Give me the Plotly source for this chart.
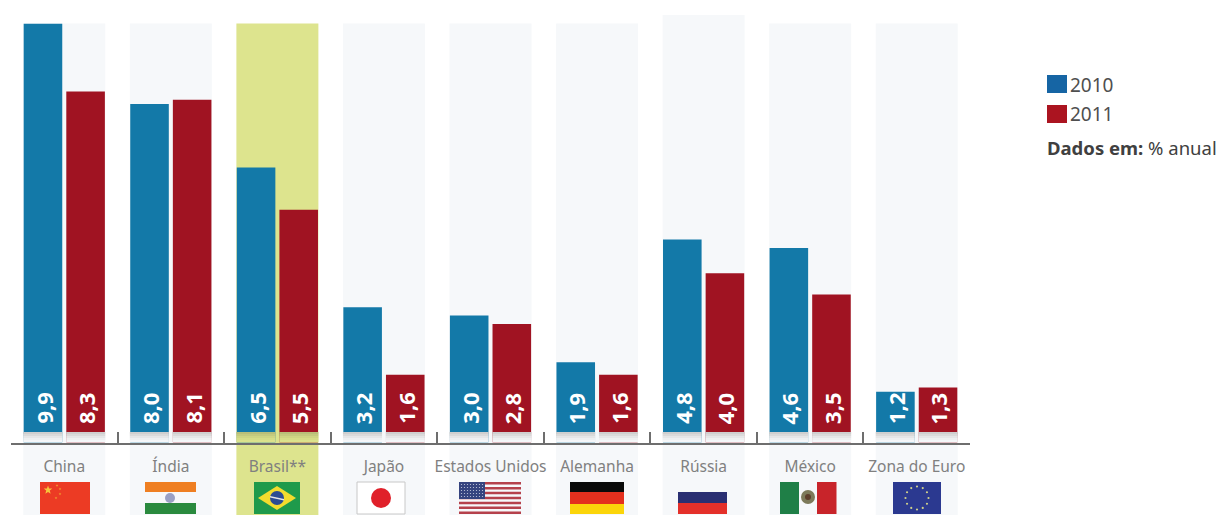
import math
import plotly.graph_objects as go

# Annual GDP growth by economy
countries = ["China", "Índia", "Brasil**", "Japão", "Estados Unidos",
             "Alemanha", "Rússia", "México", "Zona do Euro"]
growth_2010 = [9.9, 8.0, 6.5, 3.2, 3.0, 1.9, 4.8, 4.6, 1.2]
growth_2011 = [8.3, 8.1, 5.5, 1.6, 2.8, 1.6, 4.0, 3.5, 1.3]
labels_2010 = ["9,9", "8,0", "6,5", "3,2", "3,0", "1,9", "4,8", "4,6", "1,2"]
labels_2011 = ["8,3", "8,1", "5,5", "1,6", "2,8", "1,6", "4,0", "3,5", "1,3"]
year_names = ["2010", "2011"]

W, H = 1219, 515
AXIS_LEFT, AXIS_RIGHT, AXIS_Y = 11, 970, 442.5
PX_PER_UNIT = 42.3
BLUE, RED = "#1379a8", "#a01322"
LEG_BLUE, LEG_RED = "#1665a4", "#ab1420"
COL_BG, BRAZIL_BG = "#f6f8fa", "#dde48e"
FONT = "Noto Sans"
slot = (AXIS_RIGHT - AXIS_LEFT) / len(countries)
centers = [AXIS_LEFT + slot * (i + 0.5) for i in range(len(countries))]


def X(px):
    return px / W


def Y(py):
    return 1 - py / H


shapes = []


def rect(x0, y0, x1, y1, color, layer="above"):
    shapes.append(dict(type="rect", xref="paper", yref="paper", x0=X(x0), x1=X(x1),
                       y0=Y(y1), y1=Y(y0), fillcolor=color, line_width=0, layer=layer))


def dot(cx, cy, r, color):
    shapes.append(dict(type="circle", xref="paper", yref="paper", x0=X(cx - r), x1=X(cx + r),
                       y0=Y(cy + r), y1=Y(cy - r), fillcolor=color, line_width=0, layer="above"))


def polygon(points, color):
    d = "M" + " L".join(f"{X(a):.5f},{Y(b):.5f}" for a, b in points) + " Z"
    shapes.append(dict(type="path", xref="paper", yref="paper", path=d,
                       fillcolor=color, line_width=0, layer="above"))


def star(cx, cy, r, color):
    pts = []
    for k in range(10):
        rad = r if k % 2 == 0 else r * 0.42
        ang = -math.pi / 2 + k * math.pi / 5
        pts.append((cx + rad * math.cos(ang), cy + rad * math.sin(ang)))
    polygon(pts, color)


# Pale columns behind each pair of bars, reaching down past the axis
for i, c in enumerate(centers):
    top = 15 if countries[i] == "Rússia" else 23.5
    rect(c - 41, top, c + 41, H, BRAZIL_BG if countries[i].startswith("Brasil") else COL_BG, "below")

# Soft shadow strip between the bars and the axis
plain_steps = ["#cfcfcf", "#dadada", "#e5e6e7", "#eef0f1", "#f4f6f8"]
brazil_steps = ["#b9bf78", "#c4ca7e", "#ced583", "#d6dd88", "#dbe28c"]
for i, c in enumerate(centers):
    steps = brazil_steps if countries[i].startswith("Brasil") else plain_steps
    for k, col in enumerate(steps):
        y0 = 432 + k * 2
        rect(c - 41, y0, c - 1.9, y0 + 2, col)
        rect(c + 1.9, y0, c + 41, y0 + 2, col)

FT, FB = 482, 514  # flag top and bottom

# China
rect(40, FT, 90, FB, "#ec3b24")
star(48, 490, 4.5, "#f6c53c")
for sx, sy in [(57, 485.5), (60, 489), (60, 494), (56, 498)]:
    star(sx, sy, 1.4, "#f0a030")

# India
rect(145, FT, 196, 492, "#ef7f22")
rect(145, 503, 196, FB, "#2a8a3e")
dot(170, 498, 5, "#9aa0c4")

# Brazil
rect(254, FT, 300, FB, "#1f9a4b")
polygon([(258, 498), (277, 486), (296, 498), (277, 510)], "#f3dc2e")
dot(277, 498, 7, "#2b4c93")
polygon([(270, 496), (284, 499), (284, 500.5), (270, 497.5)], "#e6e6e6")

# Japan
shapes.append(dict(type="rect", xref="paper", yref="paper", x0=X(357), x1=X(405),
                   y0=Y(FB), y1=Y(FT), fillcolor="#ffffff",
                   line=dict(color="#c8c8c8", width=1), layer="above"))
dot(381, 498, 10, "#e0202a")

# United States
for s in range(7):
    y0 = FT + s * 32 / 6.5
    rect(459, y0, 521, y0 + 32 / 13, "#b5414b")
rect(459, FT, 485, 499, "#35447f")
for row in range(5):
    for col in range(8):
        dot(461.5 + col * 3, 484.5 + row * 3, 0.6, "#c9cde0")

# Germany
rect(570, FT, 624, 492, "#0a0a0a")
rect(570, 492, 624, 504, "#e4301e")
rect(570, 504, 624, FB, "#fbd50a")

# Russia
rect(678, 492, 727, 503, "#2a2f72")
rect(678, 503, 727, FB, "#e4302a")

# Mexico
rect(780, FT, 799, FB, "#1f7f47")
rect(817, FT, 836.5, FB, "#c8242a")
dot(808, 497, 7, "#7d7a5a")
dot(808, 497, 3, "#5d3f2c")

# Euro zone
rect(893, FT, 941, FB, "#2b3990")
for k in range(12):
    ang = k * math.pi / 6
    dot(917 + 11.5 * math.cos(ang), 498 + 11.5 * math.sin(ang), 1.1, "#cfd08a")

# Legend swatches
rect(1047, 75, 1067, 93, LEG_BLUE)
rect(1047, 105, 1067, 123, LEG_RED)

annotations = []
for i in range(len(countries)):
    for lab, dx in ((labels_2010[i], -21.25), (labels_2011[i], 21.25)):
        annotations.append(dict(x=i, xref="x", xshift=dx, y=Y(426), yref="paper",
                                text=f"<b>{lab}</b>", textangle=-90, showarrow=False,
                                xanchor="center", yanchor="bottom",
                                font=dict(family=FONT, size=22, color="#ffffff")))

for txt, py in zip(year_names, (84.5, 114)):
    annotations.append(dict(x=X(1067.5), y=Y(py), xref="paper", yref="paper", text=txt,
                            showarrow=False, xanchor="left", yanchor="middle",
                            font=dict(family=FONT, size=19, color="#4f4f4f")))
annotations.append(dict(x=X(1045), y=Y(148), xref="paper", yref="paper",
                        text="<b>Dados em:</b> % anual", showarrow=False,
                        xanchor="left", yanchor="middle",
                        font=dict(family=FONT, size=18.5, color="#404040")))

fig = go.Figure()
fig.add_bar(name=year_names[0], x=countries, y=growth_2010, marker=dict(color=BLUE, line_width=0))
fig.add_bar(name=year_names[1], x=countries, y=growth_2011, marker=dict(color=RED, line_width=0))

fig.update_layout(
    margin=dict(l=0, r=0, t=0, b=0),
    barmode="group", bargap=0.2, bargroupgap=0.095,
    showlegend=False, paper_bgcolor="white", plot_bgcolor="rgba(0,0,0,0)",
    shapes=shapes, annotations=annotations,
    xaxis=dict(domain=[X(AXIS_LEFT), X(AXIS_RIGHT)], type="category", range=[-0.5, 8.5],
               tickmode="array", tickvals=countries, ticktext=countries, tickson="boundaries",
               ticks="inside", ticklen=11, tickwidth=2, tickcolor="#6e6e6e", tickangle=0,
               showline=True, linecolor="#6e6e6e", linewidth=2, showgrid=False, zeroline=False,
               ticklabelstandoff=9, tickfont=dict(family=FONT, size=15.5, color="#808080")),
    yaxis=dict(domain=[Y(AXIS_Y), 1], range=[0, AXIS_Y / PX_PER_UNIT], visible=False),
)

fig.write_html("out.html")
